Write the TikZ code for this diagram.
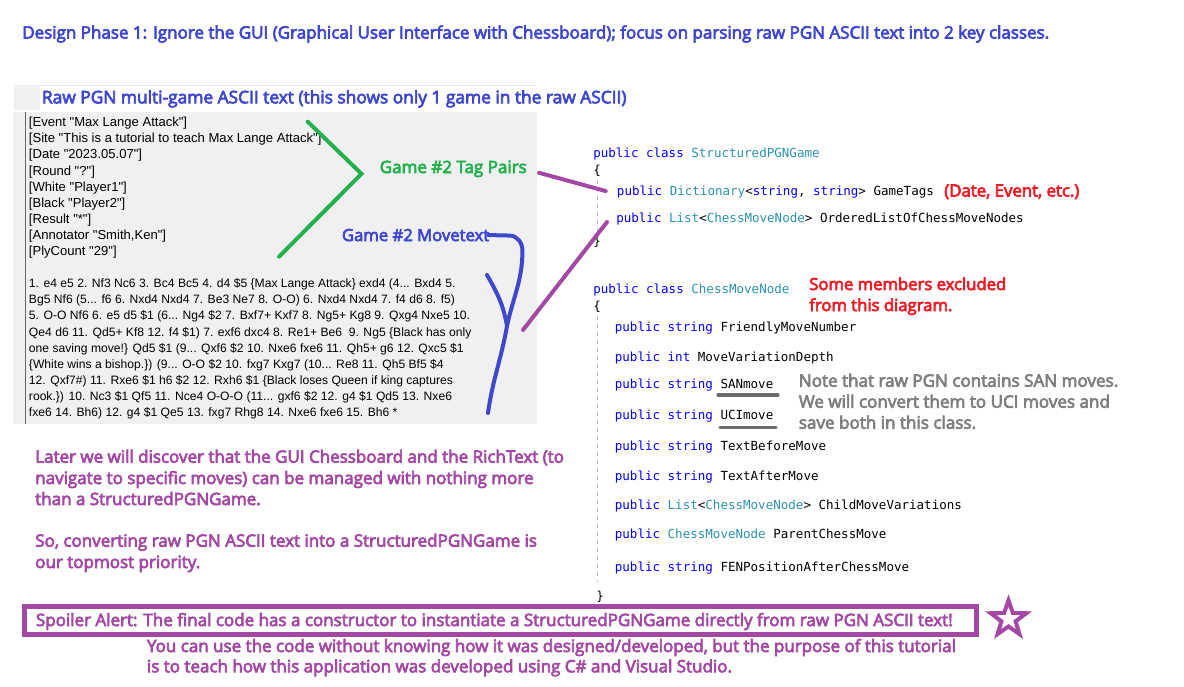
\documentclass[tikz,border=0pt]{standalone}
\usepackage{fontspec}
\setmainfont{Open Sans}
\newfontfamily\notefont{Open Sans}[FakeBold=4]
\newfontfamily\pgnfont{Liberation Sans}
\newfontfamily\codefont{DejaVu Sans Mono}
\usetikzlibrary{calc,shapes.geometric}
\definecolor{titleblue}{RGB}{63,72,204}
\definecolor{tagsgreen}{RGB}{34,177,76}
\definecolor{notepurple}{RGB}{163,73,164}
\definecolor{notered}{RGB}{237,28,36}
\definecolor{notegray}{RGB}{127,127,127}
\definecolor{kwblue}{RGB}{0,0,255}
\definecolor{tyteal}{RGB}{43,145,175}
\definecolor{boxgray}{RGB}{240,240,240}
\newcommand{\kwd}[1]{\textcolor{kwblue}{#1}}
\newcommand{\typ}[1]{\textcolor{tyteal}{#1}}
\tikzset{
  pgnline/.style={anchor=base west, inner sep=0pt, font=\pgnfont\fontsize{#1}{12}\selectfont},
  pgnline/.default=9.8,
  codeline/.style={anchor=base west, inner sep=0pt, font=\codefont\fontsize{9.4}{12}\selectfont},
  note/.style={anchor=base west, inner sep=0pt, font=\notefont\fontsize{#1}{#1}\selectfont},
  note/.default=12.75,
  greenline/.style={draw=tagsgreen, line width=3pt, line cap=round},
  blueline/.style={draw=titleblue, line width=3pt, line cap=round},
  purpleline/.style={draw=notepurple, line width=3pt, line cap=round},
  guide/.style={draw=black!25, dashed, line width=0.6pt},
  underline/.style={draw=black!58, line width=2.4pt, line cap=round}
}
\begin{document}
\begin{tikzpicture}[x=0.75pt, y=-0.75pt]
\useasboundingbox (0,0) rectangle (1184,686);
% title
\node[note, text=titleblue] (title) at (22,38.5) {Design Phase 1: Ignore the GUI (Graphical User Interface with Chessboard); focus on parsing raw PGN ASCII text into 2 key classes.};
% raw PGN panel
\fill[boxgray] (14,85) rectangle (39.5,110);
\draw[black!8, line width=0.75pt] (39.5,85.5) -- (536,85.5);
\node[note=13, text=titleblue] (rawhead) at (41.7,103.3) {Raw PGN multi-game ASCII text (this shows only 1 game in the raw ASCII)};
\fill[boxgray] (12.7,112.3) rectangle (536.5,423.5);
\draw[black!60, line width=0.75pt] (25.5,112.3) -- (25.5,423.5);
\node[pgnline] (tag1) at (28.7,126.7) {[Event "Max Lange Attack"]};
\node[pgnline] (tag2) at (28.7,142.8) {[Site "This is a tutorial to teach Max Lange Attack"]};
\node[pgnline] (tag3) at (28.7,158.9) {[Date "2023.05.07"]};
\node[pgnline] (tag4) at (28.7,175.0) {[Round "?"]};
\node[pgnline] (tag5) at (28.7,191.1) {[White "Player1"]};
\node[pgnline] (tag6) at (28.7,207.2) {[Black "Player2"]};
\node[pgnline] (tag7) at (28.7,223.3) {[Result "*"]};
\node[pgnline] (tag8) at (28.7,239.4) {[Annotator "Smith,Ken"]};
\node[pgnline] (tag9) at (28.7,255.5) {[PlyCount "29"]};
\node[pgnline=9.1] (mv1) at (28.7,287.7) {1. e4 e5 2. Nf3 Nc6 3. Bc4 Bc5 4. d4 \$5 \{Max Lange Attack\} exd4 (4... Bxd4 5.};
\node[pgnline=9.1] (mv2) at (28.7,303.8) {Bg5 Nf6 (5... f6 6. Nxd4 Nxd4 7. Be3 Ne7 8. O-O) 6. Nxd4 Nxd4 7. f4 d6 8. f5)};
\node[pgnline=9.1] (mv3) at (28.7,319.9) {5. O-O Nf6 6. e5 d5 \$1 (6... Ng4 \$2 7. Bxf7+ Kxf7 8. Ng5+ Kg8 9. Qxg4 Nxe5 10.};
\node[pgnline=9.1] (mv4) at (28.7,336.0) {Qe4 d6 11. Qd5+ Kf8 12. f4 \$1) 7. exf6 dxc4 8. Re1+ Be6 \ 9. Ng5 \{Black has only};
\node[pgnline=9.1] (mv5) at (28.7,352.1) {one saving move!\} Qd5 \$1 (9... Qxf6 \$2 10. Nxe6 fxe6 11. Qh5+ g6 12. Qxc5 \$1};
\node[pgnline=9.1] (mv6) at (28.7,368.2) {\{White wins a bishop.\}) (9... O-O \$2 10. fxg7 Kxg7 (10... Re8 11. Qh5 Bf5 \$4};
\node[pgnline=9.1] (mv7) at (28.7,384.3) {12. Qxf7\#) 11. Rxe6 \$1 h6 \$2 12. Rxh6 \$1 \{Black loses Queen if king captures};
\node[pgnline=9.1] (mv8) at (28.7,400.4) {rook.\}) 10. Nc3 \$1 Qf5 11. Nce4 O-O-O (11... gxf6 \$2 12. g4 \$1 Qd5 13. Nxe6};
\node[pgnline=9.1] (mv9) at (28.7,416.5) {fxe6 14. Bh6) 12. g4 \$1 Qe5 13. fxg7 Rhg8 14. Nxe6 fxe6 15. Bh6 *};
% hand drawn marks
\node[note, text=tagsgreen] (tagpairs) at (379.5,173) {Game \#2 Tag Pairs};
\draw[greenline] (307.7,121.7) -- ($(tagpairs.west)+(-18,5)$) -- (279,256.7);
\node[note=12.5, text=titleblue] (movetext) at (341.7,241) {Game \#2 Movetext};
\coordinate (yfork) at (507,326);
\coordinate (armtop) at (487,275);
\draw[blueline] ($(movetext.east)+(-1,0)$) -- ++(21,0.5) to[out=0,in=90] ++(13,15) to[out=-90,in=78] (yfork) to[out=-100,in=82] ++(-19,87);
\draw[blueline] (armtop) to[out=-60,in=100] (yfork);
% classes
\node[codeline] (class1) at (593,157.5) {\kwd{public} \kwd{class} \typ{StructuredPGNGame}};
\node[codeline] (open1) at (593,174.5) {\{};
\node[codeline] (gametags) at (616.7,195.5) {\kwd{public} \typ{Dictionary}<\kwd{string}, \kwd{string}> GameTags};
\node[note=12.6, text=notered] (tagsnote) at (944,196.5) {(Date, Event, etc.)};
\node[codeline] (orderedlist) at (616,222.5) {\kwd{public} \typ{List}<\typ{ChessMoveNode}> OrderedListOfChessMoveNodes};
\node[codeline] (close1) at (593,245.5) {\}};
\draw[guide] (597,180) -- (597,233);
\node[codeline] (class2) at (593,293.5) {\kwd{public} \kwd{class} \typ{ChessMoveNode}};
\node[codeline] (open2) at (593,310) {\{};
\node[note=12.5, text=notered] (excluded1) at (809,290) {Some members excluded};
\node[note=12.5, text=notered] (excluded2) at (809,311) {from this diagram.};
\draw[guide] (597,316) -- (597,582);
\node[codeline] (member1) at (614.6,331) {\kwd{public} \kwd{string} FriendlyMoveNumber};
\node[codeline] (member2) at (614.6,361) {\kwd{public} \kwd{int} MoveVariationDepth};
\node[codeline] (member3) at (614.6,388.5) {\kwd{public} \kwd{string} SANmove};
\node[codeline] (member4) at (614.6,419) {\kwd{public} \kwd{string} UCImove};
\node[codeline] (member5) at (614.6,450) {\kwd{public} \kwd{string} TextBeforeMove};
\node[codeline] (member6) at (614.6,480) {\kwd{public} \kwd{string} TextAfterMove};
\node[codeline] (member7) at (614.6,509) {\kwd{public} \typ{List}<\typ{ChessMoveNode}> ChildMoveVariations};
\node[codeline] (member8) at (614.6,538.5) {\kwd{public} \typ{ChessMoveNode} ParentChessMove};
\node[codeline] (member9) at (614.6,571) {\kwd{public} \kwd{string} FENPositionAfterChessMove};
\node[codeline] (close2) at (596,600) {\}};
\draw[underline] (718,395) -- (778,395);
\draw[underline] (720,427.5) -- (776,427.5);
\node[note=12.8, text=notegray] (sannote1) at (798.6,386.7) {Note that raw PGN contains SAN moves.};
\node[note=12.8, text=notegray] (sannote2) at (798.6,407.7) {We will convert them to UCI moves and};
\node[note=12.8, text=notegray] (sannote3) at (798.6,428.7) {save both in this class.};
% purple links
\draw[purpleline] ($(tagpairs.east)+(12,4)$) -- ($(gametags.west)+(-11,-1)$);
\draw[purpleline] ($(orderedlist.west)+(-9,3)$) -- ($(yfork)+(16,4)$);
% left remarks
\node[note, text=notepurple] (later1) at (35,462.7) {Later we will discover that the GUI Chessboard and the RichText (to};
\node[note, text=notepurple] (later2) at (35,484) {navigate to specific moves) can be managed with nothing more};
\node[note, text=notepurple] (later3) at (35,505) {than a StructuredPGNGame.};
\node[note, text=notepurple] (priority1) at (35,546.7) {So, converting raw PGN ASCII text into a StructuredPGNGame is};
\node[note, text=notepurple] (priority2) at (35,568) {our topmost priority.};
% spoiler
\draw[notepurple, line width=3.75pt] (24.7,606.5) rectangle (976.3,634.5);
\node[note, text=notepurple] (spoiler) at (35.7,626) {Spoiler Alert: The final code has a constructor to instantiate a StructuredPGNGame directly from raw PGN ASCII text!};
\node[star, star points=5, star point ratio=2.5, draw=notepurple, line width=3pt, minimum size=28pt, inner sep=0pt] (star) at (1008.5,619) {};
\node[note, text=notepurple] (purpose1) at (146.7,652) {You can use the code without knowing how it was designed/developed, but the purpose of this tutorial};
\node[note, text=notepurple] (purpose2) at (146.7,672.3) {is to teach how this application was developed using C\# and Visual Studio.};
\end{tikzpicture}
\end{document}
